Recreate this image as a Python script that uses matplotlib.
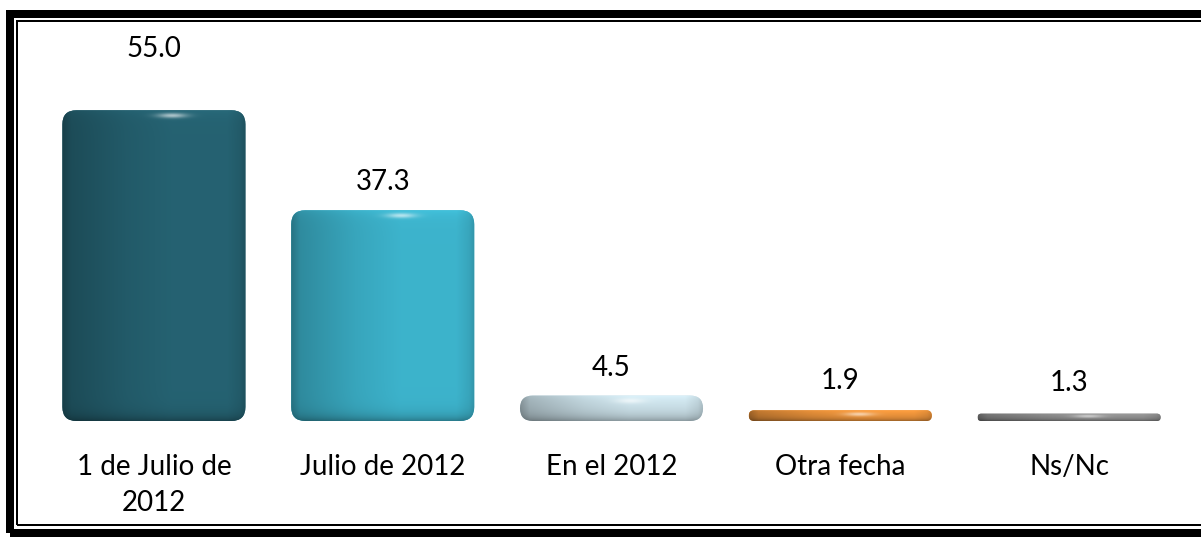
import numpy as np
import matplotlib
matplotlib.use("Agg")
import matplotlib.pyplot as plt
from matplotlib.patches import FancyBboxPatch, Rectangle
from matplotlib.colors import to_rgb

categories = ["1 de Julio de\n2012", "Julio de 2012", "En el 2012", "Otra fecha", "Ns/Nc"]
values = [55.0, 37.3, 4.5, 1.9, 1.3]
colors = ["#245F6E", "#3BAEC6", "#C6DBE3", "#E8913A", "#8E8E8E"]

plt.rcParams['font.family'] = ['Lato', 'DejaVu Sans']

W, H = 1201, 537
fig = plt.figure(figsize=(W / 100, H / 100), dpi=100)
fig.patch.set_facecolor("white")
ax = fig.add_axes([39.5 / W, 116 / H, 1144 / W, 339 / H])
ax.set_xlim(-0.5, 4.5)
ax.set_ylim(0, 60)
for s in ax.spines.values():
    s.set_visible(False)
ax.set_yticks([])
ax.set_xticks(range(len(categories)))
ax.set_xticklabels(categories, fontsize=20, linespacing=1.45)
ax.tick_params(axis="x", length=0, pad=24)

bars = ax.bar(range(len(values)), values, width=0.8, color="none", edgecolor="none")

# pixel scale of the data units
p = ax.transData.transform([(0, 0), (1, 1)])
sx = p[1, 0] - p[0, 0]
sy = p[1, 1] - p[0, 1]

def shade_image(col, wpx, hpx):
    nx = max(int(wpx), 2)
    ny = max(int(hpx), 2)
    t = np.linspace(0, 1, nx)
    fx = np.interp(t, [0, 0.05, 0.35, 0.6, 0.9, 0.97, 1.0],
                   [0.66, 0.8, 0.95, 1.03, 1.03, 0.95, 0.85])
    d = np.arange(ny)[:, None].astype(float)  # from top
    db = (ny - 1 - d)
    sc = max(min(6.0, ny / 4.0), 1.0)
    fy = (1 - 0.3 * np.exp(-db / sc)) * (1 + 0.08 * np.exp(-d / sc))
    base = np.array(to_rgb(col))
    img = base[None, None, :] * fx[None, :, None] * fy[:, :, None]
    # small highlight near top
    hx = (t - 0.6) / 0.08
    hy = (d - min(5.0, ny / 3.0)) / max(min(2.5, ny / 6.0), 0.6)
    glow = 0.6 * np.exp(-(hx[None, :] ** 2) - hy ** 2)
    img = img + (1 - img) * glow[:, :, None]
    return np.clip(img, 0, 1)

for b, col in zip(bars, colors):
    x0, y0 = b.get_x(), b.get_y()
    w, h = b.get_width(), b.get_height()
    wpx, hpx = w * sx, h * sy
    r_px = min(14.0, hpx / 2.0)
    patch = FancyBboxPatch((x0, y0), w, h,
                           boxstyle="round,pad=0,rounding_size=%f" % (r_px / sx),
                           mutation_aspect=sx / sy,
                           facecolor=col, edgecolor="none", zorder=2)
    ax.add_patch(patch)
    im = ax.imshow(shade_image(col, wpx, hpx), extent=[x0, x0 + w, y0, y0 + h],
                   aspect="auto", zorder=3, interpolation="bilinear")
    im.set_clip_path(patch)

offsets = [44, 20, 20, 21, 22]
for i, v in enumerate(values):
    ax.annotate("%.1f" % v, (i, v), xytext=(0, offsets[i]), textcoords="offset points",
                ha="center", va="center", fontsize=20)

ax.set_xlim(-0.5, 4.5)
ax.set_ylim(0, 60)

# double frame around the chart
def fx_(px):
    return px / W

def fy_(py):
    return 1 - py / H

fig.add_artist(Rectangle((fx_(10), fy_(533)), fx_(1215 - 10), fy_(14) - fy_(533),
                         transform=fig.transFigure, fill=False, edgecolor="black",
                         linewidth=8 * 0.72))
fig.add_artist(Rectangle((fx_(17), fy_(525)), fx_(1210 - 17), fy_(21) - fy_(525),
                         transform=fig.transFigure, fill=False, edgecolor="black",
                         linewidth=2 * 0.72))

fig.savefig("out.png", dpi=100)
